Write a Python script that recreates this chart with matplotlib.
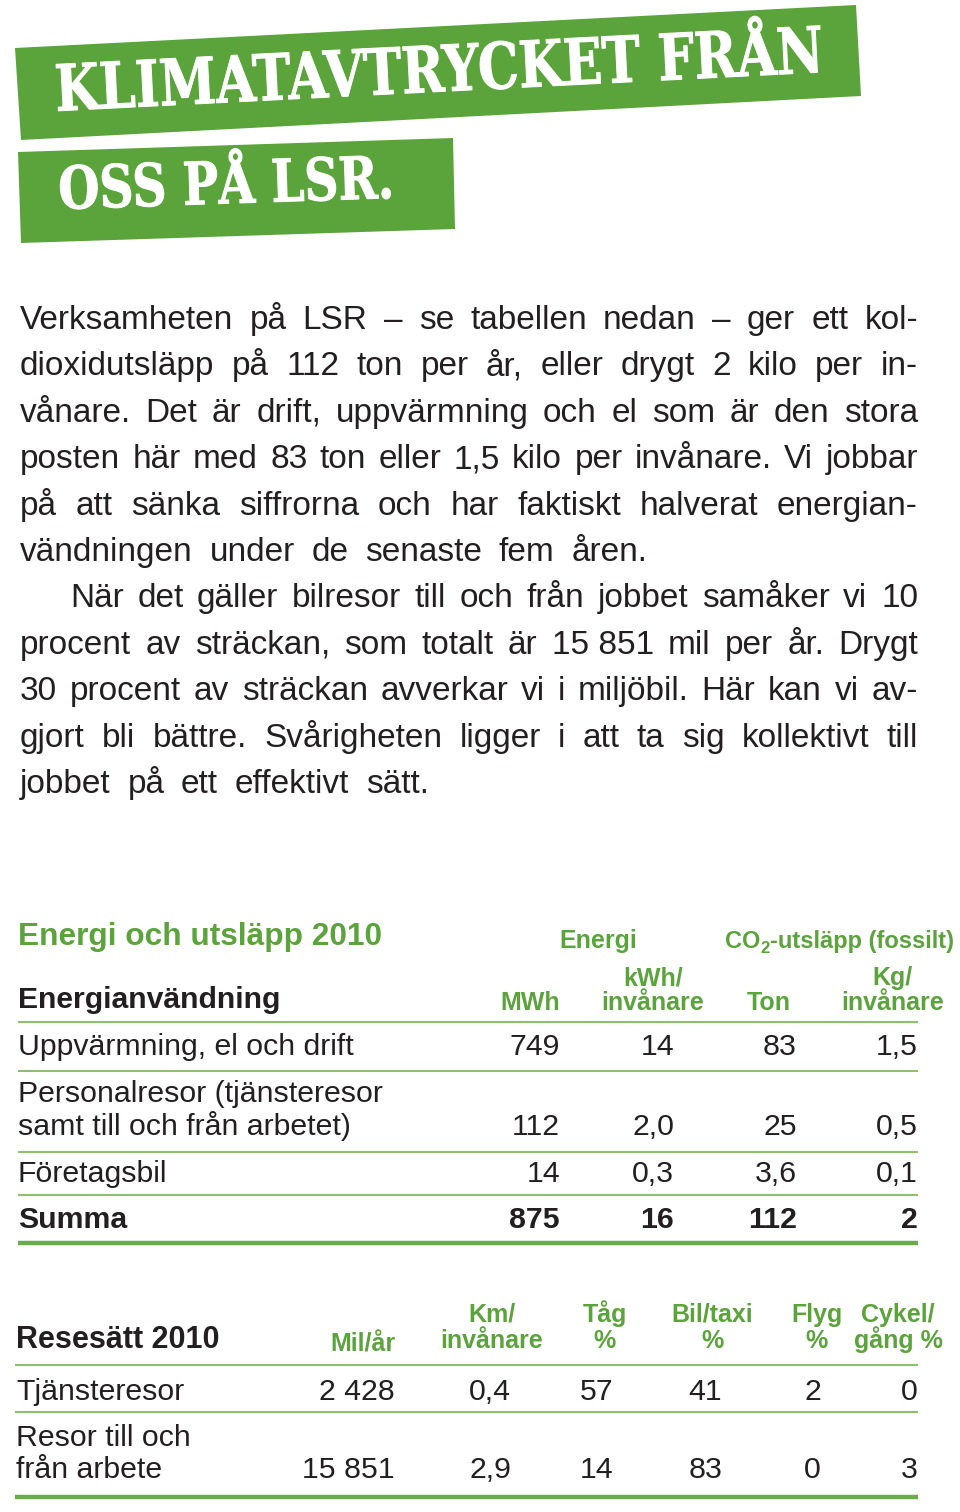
import matplotlib
matplotlib.use("Agg")
import matplotlib.pyplot as plt
from matplotlib.patches import Polygon
from matplotlib.patheffects import AbstractPathEffect
from matplotlib.transforms import Affine2D

GREEN = "#5ba33b"
LINE_GREEN = "#8cbf6e"
INK = "#231f20"

BODY = "Liberation Sans"
SERIF = "DejaVu Serif"

title_lines = ["KLIMATAVTRYCKET FRÅN", "OSS PÅ LSR."]

body_lines = [
    "Verksamheten på LSR – se tabellen nedan – ger ett kol-",
    "dioxidutsläpp på 112 ton per år, eller drygt 2 kilo per in-",
    "vånare. Det är drift, uppvärmning och el som är den stora",
    "posten här med 83 ton eller 1,5 kilo per invånare. Vi jobbar",
    "på att sänka siffrorna och har faktiskt halverat energian-",
    "vändningen under de senaste fem åren.",
    "När det gäller bilresor till och från jobbet samåker vi 10",
    "procent av sträckan, som totalt är 15\u00a0851 mil per år. Drygt",
    "30 procent av sträckan avverkar vi i miljöbil. Här kan vi av-",
    "gjort bli bättre. Svårigheten ligger i att ta sig kollektivt till",
    "jobbet på ett effektivt sätt.",
]
paragraph_end = [5, 10]
paragraph_start = [6]

# energy table
energy_rows = ["Uppvärmning, el och drift",
               "Personalresor (tjänsteresor\nsamt till och från arbetet)",
               "Företagsbil"]
energy_mwh = [749, 112, 14]
energy_kwh_per = [14, 2.0, 0.3]
co2_ton = [83, 25, 3.6]
co2_kg_per = [1.5, 0.5, 0.1]
energy_sum = [875, 16, 112, 2]

# travel table
travel_rows = ["Tjänsteresor", "Resor till och\nfrån arbete"]
mil_per_year = [2428, 15851]
km_per = [0.4, 2.9]
train_pct = [57, 14]
car_pct = [41, 83]
flight_pct = [2, 0]
bike_pct = [0, 3]
travel_headers = ["Mil/år", "Km/\ninvånare", "Tåg\n%", "Bil/taxi\n%", "Flyg\n%", "Cykel/\ngång %"]


def sv(v):
    if isinstance(v, float):
        return f"{v:.1f}".replace(".", ",")
    return f"{v:,}".replace(",", " ")


fig = plt.figure(figsize=(9.6, 15.12), dpi=100)
ax = fig.add_axes([0, 0, 1, 1])
ax.set_xlim(0, 960)
ax.set_ylim(1512, 0)
ax.axis("off")
renderer = fig.canvas.get_renderer()


class Stretch(AbstractPathEffect):
    # taller, heavier glyphs for the slab title (scaled across the rotated baseline)
    def __init__(self, anchor, angle, sy, stroke):
        super().__init__()
        self.anchor = anchor
        self.angle = angle
        self.sy = sy
        self.stroke = stroke

    def draw_path(self, renderer, gc, tpath, affine, rgbFace=None):
        x0, y0 = ax.transData.transform(self.anchor)
        extra = (Affine2D().translate(-x0, -y0).rotate_deg(-self.angle)
                 .scale(1, self.sy).rotate_deg(self.angle).translate(x0, y0))
        gc0 = renderer.new_gc()
        gc0.copy_properties(gc)
        gc0.set_linewidth(self.stroke)
        gc0.set_foreground(rgbFace)
        gc0.set_joinstyle("round")
        renderer.draw_path(gc0, tpath, affine + extra, rgbFace)
        gc0.restore()


def width_of(t):
    return t.get_window_extent(renderer).width


def fit_size(s, target, **kw):
    probe = ax.text(0, 0, s, fontsize=20, **kw)
    w = width_of(probe)
    probe.remove()
    return 20 * target / w


# green title banners
ax.add_patch(Polygon([(15, 48), (856, 5), (861, 96), (21, 140)], closed=True, fc=GREEN, ec="none"))
ax.add_patch(Polygon([(18, 152), (453, 138), (455, 229), (21, 243)], closed=True, fc=GREEN, ec="none"))
for s, x, y, w, rot in [(title_lines[0], 56, 111, 768, 2.9), (title_lines[1], 59, 209, 335, 1.9)]:
    fs = fit_size(s, w, family=SERIF, weight="heavy")
    ax.text(x, y, s, fontsize=fs, family=SERIF, weight="heavy", color="white",
            rotation=rot, rotation_mode="anchor", ha="left", va="baseline",
            path_effects=[Stretch((x, y), rot, 1.25, 0.7)])

# justified body text
left, right = 20, 918
base0, step = 329, 46.4
BODY_SIZE = 24
space_w = width_of(ax.text(0, 0, "a a", fontsize=BODY_SIZE, family=BODY, alpha=0)) - \
          width_of(ax.text(0, 0, "aa", fontsize=BODY_SIZE, family=BODY, alpha=0)) + 7.5
for i, line in enumerate(body_lines):
    y = base0 + i * step
    x_start = 70 if i in paragraph_start else left
    words = line.split(" ")
    texts = [ax.text(0, y, w, fontsize=BODY_SIZE, family=BODY, color=INK, va="baseline")
             for w in words]
    widths = [width_of(t) for t in texts]
    if i in paragraph_end or len(words) == 1:
        gap = space_w
    else:
        gap = (right - x_start - sum(widths)) / (len(words) - 1)
    x = x_start
    for t, w in zip(texts, widths):
        t.set_x(x)
        x += w + gap


def rule(y, lw=1.5, color=LINE_GREEN, x0=18, x1=918):
    ax.plot([x0, x1], [y, y], color=color, lw=lw, solid_capstyle="butt")


def label(x, y, s, size=21.8, bold=False, color=INK, ha="left", step=33):
    parts = s.split("\n")
    for k, p in enumerate(parts):
        ax.text(x, y - (len(parts) - 1 - k) * step, p, fontsize=size, family=BODY,
                weight="bold" if bold else "normal", color=color, ha=ha, va="baseline")


HEAD = 18

# ---- energy table ----
ax.text(18, 945, "Energi och utsläpp 2010", fontsize=22.8, family=BODY, weight="bold",
        color=GREEN, va="baseline")
ax.text(598, 948, "Energi", fontsize=HEAD, family=BODY, weight="bold", color=GREEN,
        ha="center", va="baseline")
# CO2 header with subscript
xx = 725
for s, dy, fs in [("CO", 0, 17), ("2", 5, 12), ("-utsläpp (fossilt)", 0, 17)]:
    t = ax.text(xx, 948 + dy, s, fontsize=fs, family=BODY, weight="bold", color=GREEN,
                va="baseline")
    xx += width_of(t)

ax.text(18, 1008, "Energianvändning", fontsize=21.7, family=BODY, weight="bold",
        color=INK, va="baseline")
energy_cols = [560, 674, 797, 918]
label(560, 1010, "MWh", size=HEAD, bold=True, color=GREEN, ha="right")
label(653, 1010, "kWh/\ninvånare", size=HEAD, bold=True, color=GREEN, ha="center", step=25)
label(769, 1010, "Ton", size=HEAD, bold=True, color=GREEN, ha="center")
label(893, 1010, "Kg/\ninvånare", size=HEAD, bold=True, color=GREEN, ha="center", step=25)
rule(1022)

row_base = [1055, 1135, 1182]
row_rule = [1071, 1152, 1195]
for r, name in enumerate(energy_rows):
    yb = row_base[r]
    label(18, yb, name)
    vals = [energy_mwh[r], energy_kwh_per[r], co2_ton[r], co2_kg_per[r]]
    for xc, v in zip(energy_cols, vals):
        label(xc, yb, sv(v), ha="right")
    rule(row_rule[r])
label(18, 1228, "Summa", bold=True)
for xc, v in zip(energy_cols, energy_sum):
    label(xc, 1228, sv(v), bold=True, ha="right")
rule(1243, lw=3.2, color="#6aac4a")

# ---- travel table ----
ax.text(16, 1348, "Resesätt 2010", fontsize=22, family=BODY, weight="bold",
        color=INK, va="baseline")
head_x = [395, 492, 605, 712, 817, 898]
head_ha = ["right", "center", "center", "center", "center", "center"]
for xh, ha, h in zip(head_x, head_ha, travel_headers):
    label(xh, 1352 if "\n" not in h else 1348, h, size=HEAD, bold=True, color=GREEN, ha=ha,
          step=26)
rule(1365, x0=15)

travel_cols = [395, 511, 613, 722, 821, 918]
travel_base = [1400, 1478]
travel_rule = [1412, 1497]
for r, name in enumerate(travel_rows):
    yb = travel_base[r]
    label(16, yb, name, step=32)
    vals = [mil_per_year[r], km_per[r], train_pct[r], car_pct[r], flight_pct[r], bike_pct[r]]
    for xc, v in zip(travel_cols, vals):
        label(xc, yb, sv(v), ha="right")
    if r == len(travel_rows) - 1:
        rule(travel_rule[r], lw=3.2, color="#6aac4a", x0=15)
    else:
        rule(travel_rule[r], x0=15)

fig.savefig("out.png", dpi=100)
